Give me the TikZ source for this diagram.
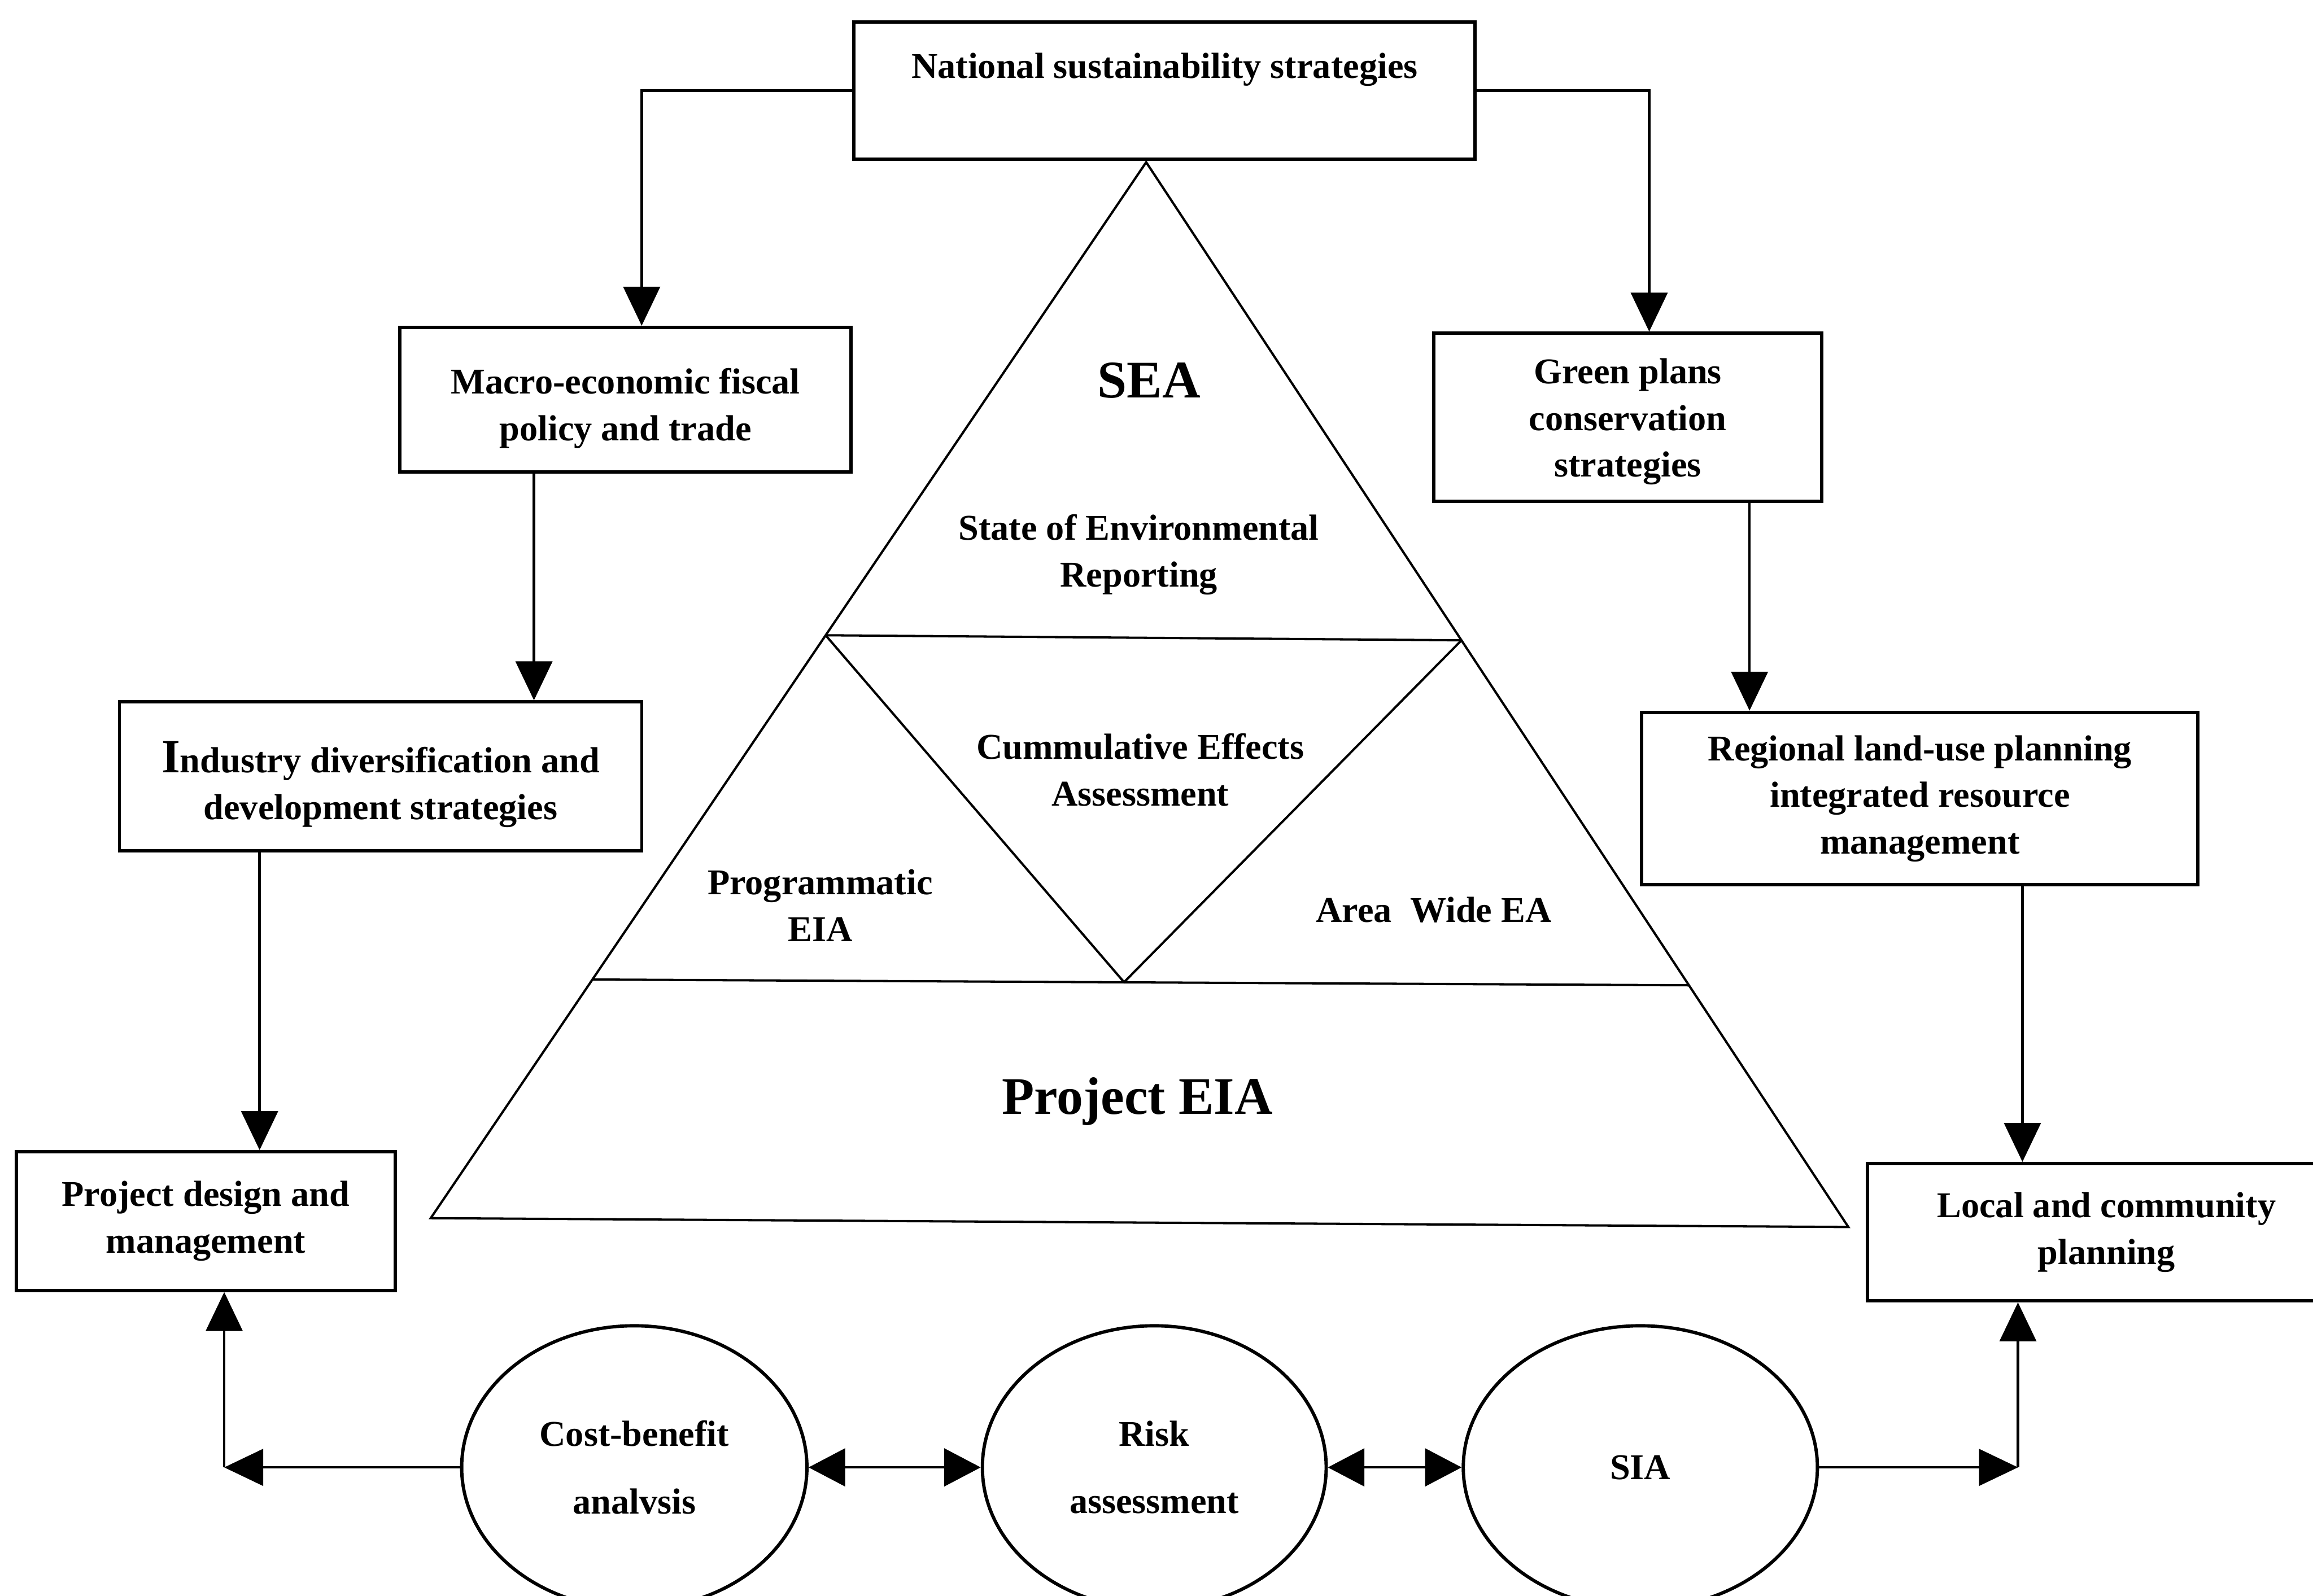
\documentclass[tikz,border=0pt]{standalone}
\usepackage{fontspec}
\setmainfont{Liberation Serif}
\usetikzlibrary{arrows.meta,shapes.geometric,calc}

\begin{document}
\begin{tikzpicture}[x=0.025cm,y=-0.025cm,
  txt/.style={font=\bfseries\fontsize{17.5}{22.5}\selectfont, align=center},
  big/.style={font=\bfseries\fontsize{25.5}{30}\selectfont, align=center},
  box/.style={txt, draw, line width=1.6pt, inner sep=0pt},
  oval/.style={txt, draw, ellipse, line width=1.6pt, inner sep=0pt, minimum height=4.8cm},
  tri/.style={line width=1.1pt, line join=miter},
  link/.style={line width=1.2pt, -{Triangle[length=0.66cm,width=0.62cm]}},
  both/.style={line width=1.2pt, {Triangle[length=0.62cm,width=0.64cm]}-{Triangle[length=0.62cm,width=0.64cm]}}
]
\useasboundingbox[fill=white] (0,0) rectangle (1568,1082);

% ---- boxes ----
\node[box, minimum width=10.525cm, text height=0.95cm, text depth=1.375cm] (nat) at (789.5,61.5) {National sustainability strategies};
\node[box, minimum width=7.65cm, minimum height=2.45cm] (macro) at (424,271) {};
\node[txt] (macrotext) at (424,277) {Macro-economic fiscal\\policy and trade};
\node[box, minimum width=8.85cm, minimum height=2.525cm] (ind) at (258,526.5) {};
\node[txt] (indtext) at (258,532) {{\fontsize{23}{23}\selectfont I}ndustry diversification and\\development strategies};
\node[box, minimum width=6.425cm, minimum height=2.35cm] (pdm) at (139.5,828) {Project design and\\management};
\node[box, minimum width=6.575cm, minimum height=2.85cm] (green) at (1103.5,283) {};
\node[txt] (greentext) at (1103.5,286) {Green plans\\conservation\\strategies};
\node[box, minimum width=9.425cm, minimum height=2.925cm] (reg) at (1301.5,541.5) {Regional land-use planning\\integrated resource\\management};
\node[box, minimum width=8.1cm, minimum height=2.325cm] (loc) at (1428,835.5) {Local and community\\planning};

% ---- ovals ----
\node[oval, minimum width=5.85cm] (cb) at (430,995) {Cost-benefit\\[10pt]analvsis};
\node[oval, minimum width=5.825cm] (risk) at (782.5,995) {Risk\\[10pt]assessment};
\node[oval, minimum width=6.0cm] (sia) at (1112,995) {SIA};

% ---- pyramid ----
\coordinate (apex) at (777,110);
\coordinate (bl) at (292,826);
\coordinate (br) at (1253,832);
\coordinate (l1) at ($(apex)!0.448!(bl)$);
\coordinate (r1) at ($(apex)!0.449!(br)$);
\coordinate (l2) at ($(apex)!0.774!(bl)$);
\coordinate (r2) at ($(apex)!0.773!(br)$);
\coordinate (vb) at (762,666);
\draw[tri] (apex) -- (bl) -- (br) -- cycle;
\draw[tri] (l1) -- (r1);
\draw[tri] (l2) -- (r2);
\draw[tri] (l1) -- (vb) -- (r1);

\node[big] (sea) at (779,258) {SEA};
\node[txt] (soer) at (772,376) {State of Environmental\\Reporting};
\node[txt] (cea) at (773,522) {Cummulative Effects\\Assessment};
\node[txt] (peia) at (556,614) {Programmatic\\EIA};
\node[txt] (awea) at (972,617) {Area\ \ Wide EA};
\node[big] (proj) at (771,747) {Project EIA};

% ---- connectors ----
\draw[link] (nat.west) -| ([xshift=0.275cm]macro.north);
\draw[link] (nat.east) -| ([xshift=0.3625cm]green.north);
\draw[link] ([xshift=-1.55cm]macro.south) -- ([xshift=-1.55cm]macro.south |- ind.north);
\draw[link] ([xshift=-2.05cm]ind.south) -- ([xshift=-2.05cm]ind.south |- pdm.north);
\draw[link] ([xshift=2.0625cm]green.south) -- ([xshift=2.0625cm]green.south |- reg.north);
\draw[link] ([xshift=1.7375cm]reg.south) -- ([xshift=1.7375cm]reg.south |- loc.north);

\coordinate (lc) at ([xshift=0.3125cm]pdm.south |- cb.west);
\draw[link] (cb.west) -- (lc);
\draw[link] (lc) -- ([xshift=0.3125cm]pdm.south);
\coordinate (rc) at ([xshift=-1.5cm]loc.south |- sia.east);
\draw[link] (sia.east) -- (rc);
\draw[link] (rc) -- ([xshift=-1.5cm]loc.south);

\draw[both] (cb.east) -- (risk.west);
\draw[both] (risk.east) -- (sia.west);
\end{tikzpicture}
\end{document}
